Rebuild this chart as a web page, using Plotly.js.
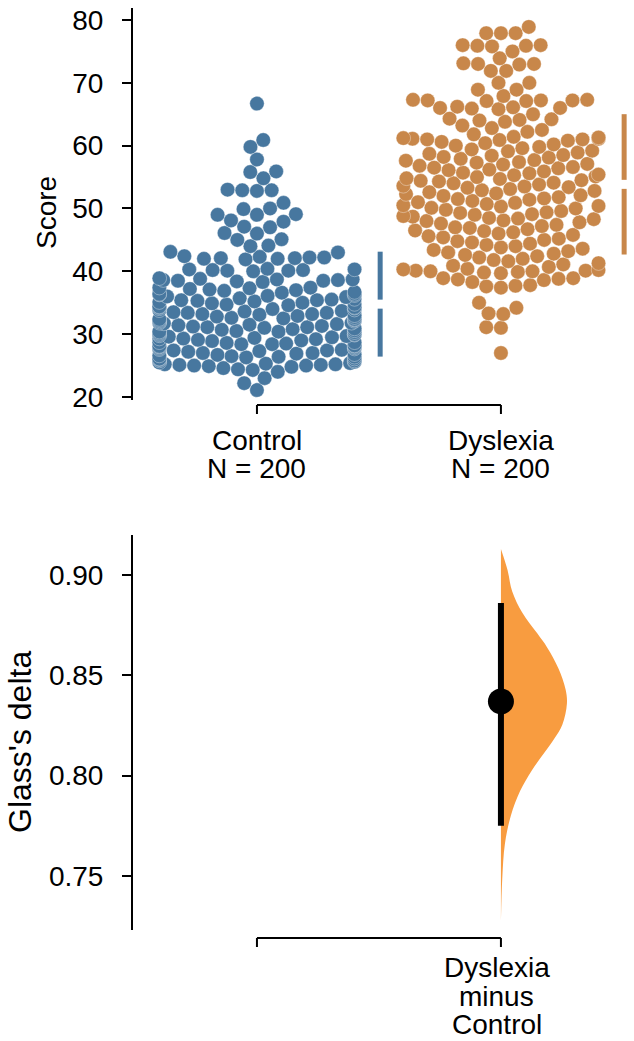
<!DOCTYPE html>
<html><head><meta charset="utf-8">
<script src="https://cdn.plot.ly/plotly-3.0.1.min.js"></script>
<style>html,body{margin:0;padding:0;background:#fff}#chart{width:634px;height:1041px}</style>
</head><body><div id="chart"></div>
<script>
// ---------------- DATA ----------------
const groups = ['Control', 'Dyslexia'];
const controlScores = [
 21.1, 22.2, 23.0, 24.0, 24.3, 24.4, 24.6, 24.8, 24.9, 25.0, 25.0, 25.1, 25.1, 25.2, 25.2, 25.3, 25.4,
 25.5, 25.6, 25.8, 25.8, 26.0, 26.1, 26.1, 26.3, 26.4, 26.4,
 26.5, 26.6, 26.7, 26.8, 26.9, 27.0, 27.0, 27.2, 27.3, 27.4, 27.4,
 27.5, 27.6, 27.7, 27.8, 27.9, 28.0, 28.1, 28.1, 28.2, 28.4, 28.4,
 28.5, 28.6, 28.7, 28.7, 28.9, 29.0, 29.1, 29.2, 29.3, 29.3, 29.4,
 29.5, 29.6, 29.7, 29.8, 29.9, 30.0, 30.0, 30.2, 30.3, 30.4, 30.4,
 30.5, 30.6, 30.7, 30.8, 30.9, 31.0, 31.1, 31.1, 31.2, 31.3, 31.4,
 31.5, 31.6, 31.7, 31.8, 31.8, 32.0, 32.1, 32.2, 32.3, 32.4, 32.4,
 32.5, 32.6, 32.7, 32.8, 32.9, 33.0, 33.1, 33.2, 33.2, 33.4, 33.4,
 33.5, 33.6, 33.7, 33.8, 33.9, 34.0, 34.1, 34.2, 34.3, 34.3, 34.4,
 34.6, 34.7, 34.8, 34.9, 35.0, 35.1, 35.2, 35.3, 35.4, 35.4,
 35.5, 35.6, 35.7, 35.9, 36.0, 36.1, 36.2, 36.3, 36.4, 36.4,
 36.6, 36.7, 36.9, 37.0, 37.1, 37.2, 37.3, 37.4, 37.4,
 38.3, 38.4, 38.5, 38.5, 38.6, 38.6, 38.7, 38.7, 38.8, 38.9,
 40.0, 40.1, 40.1, 40.2, 40.2, 40.3, 40.3, 40.4,
 41.9, 42.0, 42.0, 42.1, 42.1, 42.2, 42.2, 42.3, 42.4,
 43.0, 43.1, 44.0, 44.1, 45.0, 45.1, 46.0, 46.1, 47.0, 47.1, 47.9, 48.1,
 49.0, 49.0, 49.1, 49.9, 50.0, 50.9, 52.8, 52.9, 52.9, 53.0,
 54.8, 55.8, 55.9, 57.8, 59.8, 60.9, 66.7
];
const dyslexiaScores = [
 27.0, 31.0, 31.1, 33.2, 33.3, 34.2, 35.0, 37.4, 37.6, 37.7, 37.8, 38.3, 38.6, 38.7, 38.8, 38.9, 38.9,
 39.7, 39.8, 39.9, 40.0, 40.0, 40.1, 40.1, 40.2, 40.3, 40.4,
 40.7, 40.9, 41.1, 41.3,
 41.6, 41.8, 42.0, 42.2, 42.4,
 42.6, 42.8, 43.0, 43.2, 43.4,
 43.6, 43.8, 44.0, 44.2, 44.4,
 44.6, 44.8, 45.0, 45.2, 45.4,
 45.6, 45.8, 46.0, 46.2, 46.4,
 46.5, 46.7, 46.9, 47.0, 47.2, 47.4,
 47.6, 47.8, 48.0, 48.1, 48.3, 48.4,
 48.5, 48.7, 48.8, 49.0, 49.1, 49.3, 49.4,
 49.6, 49.8, 50.0, 50.1, 50.3, 50.4,
 50.5, 50.7, 50.9, 51.0, 51.2, 51.4,
 51.5, 51.6, 51.8, 52.0, 52.1, 52.3, 52.4,
 52.6, 52.8, 52.9, 53.1, 53.3, 53.4,
 53.5, 53.6, 53.8, 54.0, 54.1, 54.3, 54.4,
 54.5, 54.7, 54.8, 55.0, 55.1, 55.3, 55.4,
 55.6, 55.7, 55.9, 56.1, 56.2, 56.4,
 56.5, 56.6, 56.8, 57.0, 57.1, 57.3, 57.4,
 57.6, 57.7, 57.9, 58.1, 58.2, 58.4,
 58.5, 58.7, 58.9, 59.1, 59.2, 59.4,
 59.6, 59.8, 60.0, 60.2, 60.4,
 60.6, 60.8, 60.9, 61.0, 61.0, 61.1, 61.1, 61.2, 61.3, 61.4,
 61.8, 62.2, 62.5, 62.8, 63.2,
 63.8, 64.0, 64.1, 64.2, 64.3, 65.0,
 65.8, 65.9, 66.0, 66.0, 66.1, 66.2,
 67.1, 67.1, 67.2, 67.2, 67.2, 67.3, 67.3,
 67.9, 68.9, 68.9, 70.0, 70.0, 71.9, 71.9,
 72.9, 73.0, 73.0, 73.1, 73.9, 75.0,
 75.8, 75.9, 75.9, 76.0, 76.0,
 77.9, 77.9, 77.9, 78.9
];
const scoreTicks = [20, 30, 40, 50, 60, 70, 80];
const deltaTicks = [0.75, 0.80, 0.85, 0.90];
const effectName = ['Dyslexia', 'minus', 'Control'];
const effectSize = 0.837;
const effectCI = [0.775, 0.886];
const bootGrid = [0.9129, 0.9024, 0.8919, 0.8814, 0.8709, 0.8639, 0.8535, 0.8429, 0.8360,
                  0.8254, 0.8185, 0.8115, 0.8027, 0.7923, 0.7800, 0.7660, 0.7486, 0.7276];
const bootDensity = [0, 0.10, 0.17, 0.32, 0.55, 0.70, 0.87, 0.98, 1.0,
                     0.93, 0.81, 0.66, 0.47, 0.29, 0.15, 0.06, 0.02, 0];

// ---------------- GEOMETRY ----------------
const W = 634, H = 1041;
const M = {l: 133, r: 4, t: 8, b: 111, pad: 0};
const plotW = W - M.l - M.r;
const plotH = H - M.t - M.b;
const pyToPaper = py => (H - M.b - py) / plotH;
const pxToPaper = px => (px - M.l) / plotW;
const xRange = [-0.508, 1.529];
const pxPerX = plotW / (xRange[1] - xRange[0]);
const topDomain = [pyToPaper(400), 1];
const botDomain = [0, pyToPaper(535)];
const scoreRange = [19.52, 81.91];
const deltaRange = [0.7231, 0.9199];
const pxPerScore = (topDomain[1] - topDomain[0]) * plotH / (scoreRange[1] - scoreRange[0]);

const colors = ['#47779f', '#c8874a'];
const violinColor = '#f89c40';
const FONT = 'Liberation Sans, Arial, Helvetica, sans-serif';
const markerD = 14;

// seaborn-like beeswarm (in pixel space) with gutters
function swarmOffsets(values, diam, pxPerY, halfWidth) {
  const order = values.map((v, i) => i).sort((a, b) => values[a] - values[b]);
  const placed = [];
  const offs = new Array(values.length);
  for (const i of order) {
    const y = values[i] * pxPerY;
    const nb = [];
    for (let k = placed.length - 1; k >= 0; k--) {
      if (y - placed[k].y < diam) nb.push(placed[k]); else break;
    }
    const cands = [0];
    let leftFirst = true;
    for (const n of nb) {
      const dy = y - n.y;
      const dx = Math.sqrt(Math.max(diam * diam - dy * dy, 0)) * 1.05;
      if (leftFirst) cands.push(n.x - dx, n.x + dx); else cands.push(n.x + dx, n.x - dx);
      leftFirst = !leftFirst;
    }
    const idx = cands.map((c, j) => j).sort((a, b) => (Math.abs(cands[a]) - Math.abs(cands[b])) || (a - b));
    let chosen = 0;
    for (const j of idx) {
      const cx = cands[j];
      let ok = true;
      for (const n of nb) {
        const dx = cx - n.x, dy = y - n.y;
        if (dx * dx + dy * dy < diam * diam - 1e-6) { ok = false; break; }
      }
      if (ok) { chosen = cx; break; }
    }
    placed.push({x: chosen, y: y});
    offs[i] = chosen;
  }
  return offs.map(o => Math.max(-halfWidth, Math.min(halfWidth, o)));
}

const series = [controlScores, dyslexiaScores];
const traces = [];
series.forEach((vals, gi) => {
  const offs = swarmOffsets(vals, markerD, pxPerScore, 0.4 * pxPerX);
  traces.push({
    type: 'scatter', mode: 'markers', xaxis: 'x', yaxis: 'y',
    x: offs.map(o => gi + o / pxPerX), y: vals,
    marker: {size: 14.5, color: colors[gi], line: {width: 0.8, color: 'rgba(255,255,255,0.45)'}},
    hoverinfo: 'skip'
  });
});
// mean +/- sd gapped lines
const gapHalf = 0.0115 * (scoreRange[1] - scoreRange[0]);
series.forEach((vals, gi) => {
  const n = vals.length;
  const mean = vals.reduce((a, b) => a + b, 0) / n;
  const sd = Math.sqrt(vals.reduce((a, b) => a + (b - mean) * (b - mean), 0) / (n - 1));
  const xg = gi + 0.505;
  traces.push({
    type: 'scatter', mode: 'lines', xaxis: 'x', yaxis: 'y',
    x: [xg, xg, null, xg, xg],
    y: [mean - sd, mean - gapHalf, null, mean + gapHalf, mean + sd],
    line: {color: colors[gi], width: 5}, hoverinfo: 'skip'
  });
});
// bootstrap half-violin
const violinMaxX = 66 / pxPerX;
traces.push({
  type: 'scatter', mode: 'lines', xaxis: 'x2', yaxis: 'y2',
  x: bootDensity.map(d => 1 + d * violinMaxX), y: bootGrid,
  fill: 'toself', fillcolor: violinColor, line: {width: 0, color: violinColor, shape: 'spline'},
  hoverinfo: 'skip'
});
traces.push({
  type: 'scatter', mode: 'lines', xaxis: 'x2', yaxis: 'y2',
  x: [1, 1], y: effectCI, line: {color: '#000', width: 6}, hoverinfo: 'skip'
});
traces.push({
  type: 'scatter', mode: 'markers', xaxis: 'x2', yaxis: 'y2',
  x: [1], y: [effectSize], marker: {size: 26, color: '#000'}, hoverinfo: 'skip'
});

// spines for categorical axes (matplotlib-style offset spines)
const shapes = [];
function catSpine(xref, pyLine, pyTick) {
  shapes.push({type: 'line', xref: xref, yref: 'paper', x0: 0, x1: 1,
    y0: pyToPaper(pyLine), y1: pyToPaper(pyLine), line: {color: '#000', width: 2}, layer: 'above'});
  [0, 1].forEach(i => shapes.push({type: 'line', xref: xref, yref: 'paper', x0: i, x1: i,
    y0: pyToPaper(pyLine), y1: pyToPaper(pyTick), line: {color: '#000', width: 2}, layer: 'above'}));
}
catSpine('x', 405, 414);
catSpine('x2', 938, 947);

const annotations = [];
const catFont = {size: 28, family: FONT, color: '#000'};
groups.forEach((g, gi) => {
  annotations.push({xref: 'x', yref: 'paper', x: gi, y: pyToPaper(440), text: g, showarrow: false,
    yanchor: 'middle', borderpad: 0, font: catFont});
  annotations.push({xref: 'x', yref: 'paper', x: gi, y: pyToPaper(468), text: 'N = ' + series[gi].length,
    showarrow: false, yanchor: 'middle', borderpad: 0, font: catFont});
});
effectName.forEach((t, k) => {
  annotations.push({xref: 'x2', yref: 'paper', x: 1, xshift: -4, y: pyToPaper(968 + k * 28), text: t,
    showarrow: false, yanchor: 'middle', borderpad: 0, font: catFont});
});
annotations.push({xref: 'paper', yref: 'paper', x: pxToPaper(46), y: pyToPaper(213), text: 'Score',
  textangle: -90, showarrow: false, xanchor: 'center', yanchor: 'middle', font: {size: 28, family: FONT, color: '#000'}});
annotations.push({xref: 'paper', yref: 'paper', x: pxToPaper(20), y: pyToPaper(742), text: "Glass's delta",
  textangle: -90, showarrow: false, xanchor: 'center', yanchor: 'middle', font: {size: 32, family: FONT, color: '#000'}});

const yAxisCommon = {
  ticks: 'outside', ticklen: 9, tickwidth: 2, tickcolor: '#000',
  showline: true, linewidth: 2, linecolor: '#000', showgrid: false, zeroline: false,
  tickfont: {size: 28, family: FONT, color: '#000'}, ticklabelstandoff: 13, fixedrange: true
};
const layout = {
  width: W, height: H, margin: M, showlegend: false,
  paper_bgcolor: '#fff', plot_bgcolor: '#fff',
  font: {family: FONT, size: 28, color: '#000'},
  xaxis: {domain: [0, 1], range: xRange, anchor: 'y', visible: false, fixedrange: true},
  yaxis: Object.assign({domain: topDomain, range: scoreRange, tickvals: scoreTicks, anchor: 'x'}, yAxisCommon),
  xaxis2: {domain: [0, 1], range: xRange, anchor: 'y2', visible: false, fixedrange: true},
  yaxis2: Object.assign({domain: botDomain, range: deltaRange, tickvals: deltaTicks, tickformat: '.2f', anchor: 'x2'}, yAxisCommon),
  shapes: shapes, annotations: annotations
};
Plotly.newPlot('chart', traces, layout, {staticPlot: true, displayModeBar: false});
</script>
</body></html>
